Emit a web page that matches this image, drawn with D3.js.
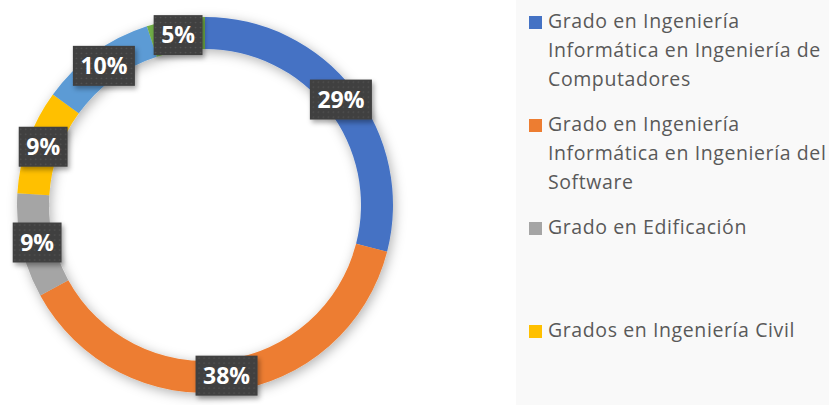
<!DOCTYPE html>
<html>
<head>
<meta charset="utf-8">
<script src="https://cdn.jsdelivr.net/npm/d3@7"></script>
<style>
  html, body { margin: 0; padding: 0; background: #ffffff; }
  svg { display: block; }
</style>
</head>
<body>
<svg id="chart" width="829" height="405"></svg>
<script>
// Distribución de estudiantes por titulación (porcentaje)
const categories = [
  "Grado en Ingeniería Informática en Ingeniería de Computadores",
  "Grado en Ingeniería Informática en Ingeniería del Software",
  "Grado en Edificación",
  "Grados en Ingeniería Civil",
  "Otros grados de Ingeniería",
  "Otros grados"
];
const values = [29, 38, 9, 9, 10, 5];
const colors = ["#4472C4", "#ED7D31", "#A5A5A5", "#FFC000", "#5B9BD5", "#70AD47"];
// Legend lines, wrapped to the legend box width
const legendLines = [
  ["Grado en Ingeniería", "Informática en Ingeniería de", "Computadores"],
  ["Grado en Ingeniería", "Informática en Ingeniería del", "Software"],
  ["Grado en Edificación"],
  ["Grados en Ingeniería Civil"],
  ["Otros grados de Ingeniería"],
  ["Otros grados"]
];

const svg = d3.select("#chart");
const W = 829, H = 405;
const cx = 205, cy = 205, rOuter = 188, rInner = 156;

const defs = svg.append("defs");
// soft shadow for the ring
const f1 = defs.append("filter").attr("id", "ringShadow")
  .attr("x", "-20%").attr("y", "-20%").attr("width", "140%").attr("height", "140%");
f1.append("feDropShadow").attr("dx", 2).attr("dy", 3).attr("stdDeviation", 6)
  .attr("flood-color", "#000").attr("flood-opacity", 0.3);
// shadow for label boxes
const f2 = defs.append("filter").attr("id", "boxShadow")
  .attr("x", "-30%").attr("y", "-30%").attr("width", "160%").attr("height", "160%");
f2.append("feDropShadow").attr("dx", 2).attr("dy", 3).attr("stdDeviation", 2.5)
  .attr("flood-color", "#000").attr("flood-opacity", 0.35);
// dotted texture for label boxes
const pat = defs.append("pattern").attr("id", "dots")
  .attr("width", 5).attr("height", 5).attr("patternUnits", "userSpaceOnUse");
pat.append("rect").attr("width", 5).attr("height", 5).attr("fill", "#404040");
pat.append("circle").attr("cx", 2.5).attr("cy", 2.5).attr("r", 0.8).attr("fill", "#555555");

// legend panel
svg.append("rect").attr("x", 516).attr("y", 0).attr("width", W - 516).attr("height", H)
  .attr("fill", "#f9f9f9");

const pie = d3.pie().sort(null).value(d => d)(values);
const arc = d3.arc().innerRadius(rInner).outerRadius(rOuter);
const labelArc = d3.arc().innerRadius(172).outerRadius(172);

const g = svg.append("g").attr("transform", `translate(${cx},${cy})`);
g.append("g").attr("filter", "url(#ringShadow)")
  .selectAll("path").data(pie).join("path")
  .attr("d", arc)
  .attr("fill", (d, i) => colors[i]);

const total = d3.sum(values);
const fmt = v => Math.round(v / total * 100) + "%";

const labels = g.append("g").selectAll("g").data(pie).join("g")
  .attr("transform", d => `translate(${labelArc.centroid(d)})`);
labels.each(function (d) {
  const sel = d3.select(this);
  const t = sel.append("text")
    .attr("text-anchor", "middle")
    .attr("dy", "0.36em")
    .attr("font-family", "'Open Sans', sans-serif")
    .attr("font-weight", 700)
    .attr("font-size", 23)
    .attr("fill", "#ffffff")
    .text(fmt(d.data));
  const w = t.node().getComputedTextLength() + 15;
  const h = 40;
  sel.insert("rect", "text")
    .attr("x", -w / 2).attr("y", -h / 2)
    .attr("width", w).attr("height", h)
    .attr("fill", "url(#dots)")
    .attr("filter", "url(#boxShadow)");
});

// legend: one slot per entry; only entries that fit in the panel are drawn
const legendFirst = 28, legendStep = 103;
const lg = svg.append("g");
legendLines.forEach((lines, i) => {
  const y0 = legendFirst + i * legendStep;
  if (y0 + (lines.length - 1) * 29 + 6 > H) return;
  lg.append("rect").attr("x", 529).attr("y", y0 - 12).attr("width", 13).attr("height", 13)
    .attr("fill", colors[i]);
  const txt = lg.append("text")
    .attr("x", 548).attr("y", y0)
    .attr("font-family", "'Open Sans', sans-serif")
    .attr("font-size", 19.5)
    .attr("letter-spacing", 0.6)
    .attr("fill", "#595959");
  lines.forEach((ln, j) => {
    txt.append("tspan").attr("x", 548).attr("y", y0 + j * 29).text(ln);
  });
});
</script>
</body>
</html>
